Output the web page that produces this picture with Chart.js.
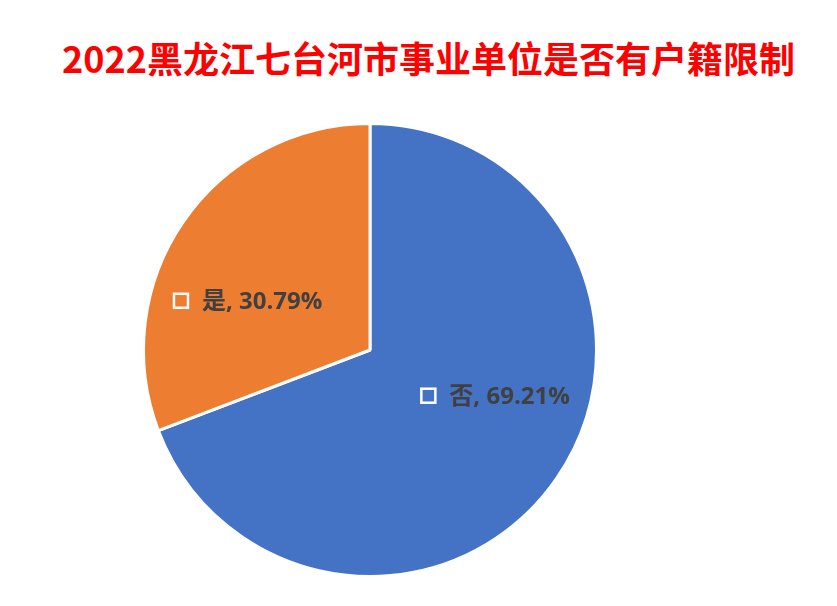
<!DOCTYPE html>
<html>
<head>
<meta charset="utf-8">
<script src="https://cdn.jsdelivr.net/npm/chart.js@4"></script>
<style>
  html, body { margin: 0; padding: 0; background: #fff; }
  #wrap { position: relative; width: 837px; height: 606px; }
  #title {
    position: absolute; left: 0; top: 31px; width: 857px; text-align: center;
    font-family: "Noto Sans CJK SC", "Noto Sans", sans-serif; font-weight: bold;
    font-size: 36px; line-height: 52px; color: #ff0000; margin: 0;
  }
  canvas { position: absolute; left: 0; top: 0; }
</style>
</head>
<body>
<div id="wrap">
  <h1 id="title">2022黑龙江七台河市事业单位是否有户籍限制</h1>
  <canvas id="pie" width="837" height="606"></canvas>
</div>
<script>
const categories = ["否", "是"];
const shares = [69.21, 30.79];
const sliceColors = ["#4472C4", "#ED7D31"];

// where each label sits: angle (deg, canvas coords) and distance as a fraction of radius
const labelSpots = [
  { angle: 20, dist: 0.59 },
  { angle: 202, dist: 0.58 },
];

const sliceLabels = {
  id: "sliceLabels",
  afterDatasetsDraw(chart) {
    const ctx = chart.ctx;
    const arcs = chart.getDatasetMeta(0).data;
    ctx.save();
    ctx.font = 'bold 24px "Open Sans", "Noto Sans CJK SC", sans-serif';
    ctx.textBaseline = "middle";
    arcs.forEach((arc, i) => {
      const text = `${categories[i]}, ${shares[i].toFixed(2)}%`;
      const spot = labelSpots[i];
      const a = (spot.angle * Math.PI) / 180;
      const cx = arc.x + Math.cos(a) * arc.outerRadius * spot.dist;
      const cy = arc.y + Math.sin(a) * arc.outerRadius * spot.dist;
      const tw = ctx.measureText(text).width;
      const box = 14;
      const gap = 14;
      const total = box + gap + tw;
      const x0 = cx - total / 2;
      ctx.strokeStyle = "#ffffff";
      ctx.lineWidth = 2.5;
      ctx.strokeRect(x0, cy - box / 2, box, box);
      ctx.fillStyle = "#404040";
      ctx.textAlign = "left";
      ctx.fillText(text, x0 + box + gap, cy + 1);
    });
    ctx.restore();
  },
};

new Chart(document.getElementById("pie"), {
  type: "pie",
  data: {
    labels: categories,
    datasets: [
      {
        data: shares,
        backgroundColor: sliceColors,
        borderColor: "#ffffff",
        borderWidth: 3,
      },
    ],
  },
  options: {
    responsive: false,
    animation: false,
    layout: { padding: { left: 142, right: 239, top: 122, bottom: 28 } },
    plugins: {
      legend: { display: false },
      tooltip: { enabled: false },
    },
  },
  plugins: [sliceLabels],
});
</script>
</body>
</html>
